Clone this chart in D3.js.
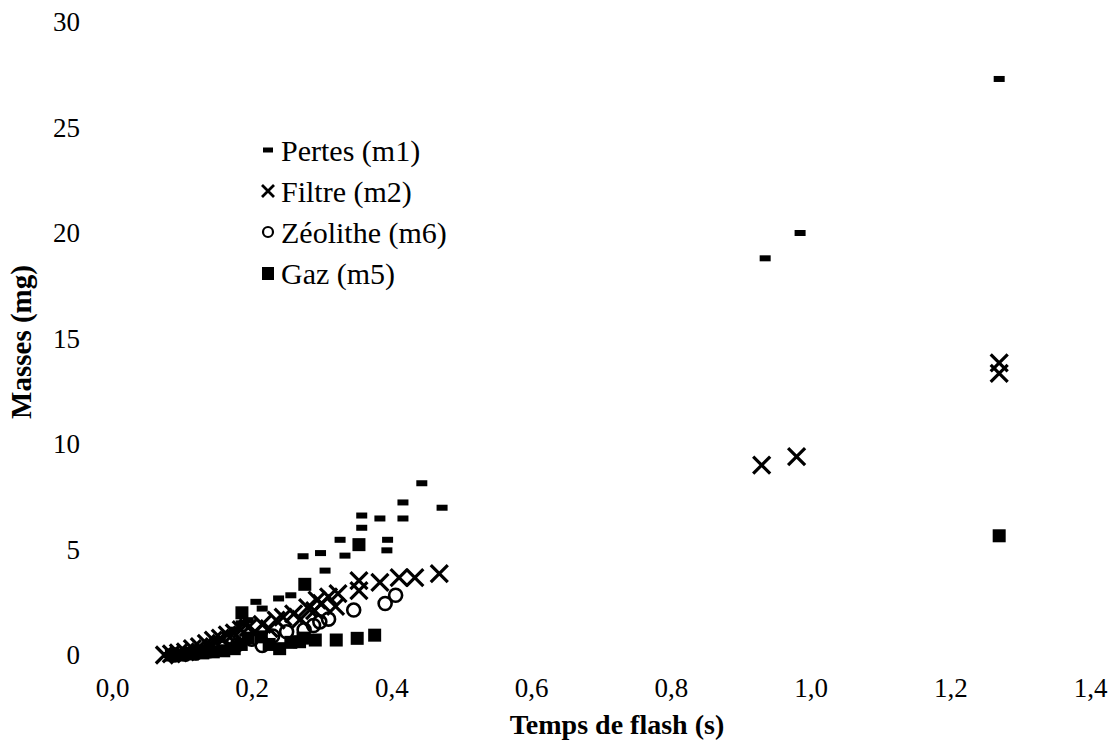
<!DOCTYPE html>
<html><head><meta charset="utf-8">
<script src="https://cdn.jsdelivr.net/npm/d3@7"></script>
<style>body{margin:0;background:#fff}svg{display:block}</style>
</head><body><svg id="c" width="1113" height="750"></svg>
<script>
const xTicks=[0,0.2,0.4,0.6,0.8,1.0,1.2,1.4];
const yTicks=[0,5,10,15,20,25,30];
const seriesNames=["Pertes (m1)","Filtre (m2)","Zéolithe (m6)","Gaz (m5)"];
const xTitle="Temps de flash (s)";
const yTitle="Masses (mg)";

const pertesX=[0.08,0.09,0.10,0.11,0.125,0.14,0.155,0.165,0.175,0.185,0.195,0.206,0.215,0.2385,0.256,0.2735,0.2985,0.305,0.3265,0.3335,0.3575,0.3575,0.3835,0.3935,0.3945,0.4165,0.4165,0.4435,0.4725,0.935,0.985,1.27];
const pertesY=[0.0,0.05,0.1,0.2,0.35,0.5,0.75,1.0,1.2,1.5,1.65,2.52,2.2,2.68,2.83,4.68,4.83,4.0,5.46,4.71,6.03,6.61,6.47,4.96,5.46,6.47,7.23,8.14,6.98,18.8,20.0,27.3];

const filtreX=[0.075,0.085,0.095,0.105,0.115,0.125,0.135,0.145,0.155,0.165,0.175,0.185,0.195,0.205,0.215,0.225,0.235,0.245,0.26,0.27,0.28,0.29,0.2935,0.30,0.31,0.32,0.3235,0.3535,0.3535,0.3835,0.411,0.4335,0.4685,0.93,0.98,1.27,1.27];
const filtreY=[0.0,0.05,0.1,0.15,0.3,0.4,0.55,0.7,0.8,0.95,1.05,1.2,1.3,1.1,1.45,1.25,1.65,1.8,1.95,1.7,2.25,2.1,2.6,2.45,2.75,2.3,2.91,3.05,3.52,3.44,3.67,3.67,3.86,9.0,9.4,13.35,13.85];

const zeoX=[0.09,0.105,0.12,0.14,0.16,0.18,0.20,0.215,0.23,0.25,0.275,0.2885,0.2975,0.31,0.346,0.391,0.406];
const zeoY=[0.0,0.05,0.1,0.2,0.35,0.5,0.75,0.45,0.9,1.1,1.2,1.4,1.57,1.7,2.13,2.44,2.83];

const gazX=[0.085,0.10,0.115,0.13,0.145,0.16,0.175,0.185,0.186,0.195,0.2135,0.225,0.24,0.256,0.2685,0.2735,0.276,0.291,0.321,0.3535,0.351,0.376,1.27];
const gazY=[0.0,0.0,0.05,0.1,0.15,0.2,0.3,0.5,2.0,0.8,0.86,0.5,0.3,0.6,0.63,0.8,3.35,0.71,0.71,5.23,0.79,0.94,5.65];

const FONT="'Liberation Serif','Times New Roman',serif";
const svg=d3.select("#c");
svg.append("rect").attr("width",1113).attr("height",750).attr("fill","#fff");

const x=d3.scaleLinear().domain([0,1.4]).range([112,1090]);
const y=d3.scaleLinear().domain([0,30]).range([655,22]);
const fmt=d=>d3.format(".1f")(d).replace(".",",");

const gx=svg.append("g").attr("transform","translate(0,688)")
  .call(d3.axisBottom(x).tickValues(xTicks).tickFormat(fmt).tickSize(0).tickPadding(0));
gx.select(".domain").remove();
gx.selectAll("text").attr("font-family",FONT).attr("font-size",27).attr("fill","#000").attr("dy","0.35em");

const gy=svg.append("g").attr("transform","translate(80,0)")
  .call(d3.axisLeft(y).tickValues(yTicks).tickSize(0).tickPadding(0));
gy.select(".domain").remove();
gy.selectAll("text").attr("font-family",FONT).attr("font-size",27).attr("fill","#000");

svg.append("text").attr("x",617).attr("y",734).attr("text-anchor","middle")
  .attr("font-family",FONT).attr("font-size",28).attr("font-weight","bold").text(xTitle);
svg.append("text").attr("transform","translate(31,342) rotate(-90)").attr("text-anchor","middle")
  .attr("font-family",FONT).attr("font-size",29).attr("font-weight","bold").text(yTitle);

function pts(xs,ys){return xs.map((v,i)=>[v,ys[i]]);}
function drawDash(g,data,w,h){
  g.selectAll("rect.d").data(data).join("rect").attr("class","d")
   .attr("x",d=>x(d[0])-w/2).attr("y",d=>y(d[1])-h/2).attr("width",w).attr("height",h).attr("fill","#000");
}
function drawX(g,data,a,sw){
  g.selectAll("path.x").data(data).join("path").attr("class","x")
   .attr("d",d=>{const cx=x(d[0]),cy=y(d[1]);return `M${cx-a},${cy-a}L${cx+a},${cy+a}M${cx-a},${cy+a}L${cx+a},${cy-a}`;})
   .attr("stroke","#000").attr("stroke-width",sw).attr("fill","none");
}
function drawO(g,data,r,sw){
  g.selectAll("circle.o").data(data).join("circle").attr("class","o")
   .attr("cx",d=>x(d[0])).attr("cy",d=>y(d[1])).attr("r",r).attr("fill","none").attr("stroke","#000").attr("stroke-width",sw);
}
function drawSq(g,data,s){
  g.selectAll("rect.s").data(data).join("rect").attr("class","s")
   .attr("x",d=>x(d[0])-s/2).attr("y",d=>y(d[1])-s/2).attr("width",s).attr("height",s).attr("fill","#000");
}
drawDash(svg.append("g"),pts(pertesX,pertesY),11,6);
drawX(svg.append("g"),pts(filtreX,filtreY),8.5,3.2);
drawO(svg.append("g"),pts(zeoX,zeoY),6.5,2.6);
drawSq(svg.append("g"),pts(gazX,gazY),13);

// legend
const lg=svg.append("g");
const rows=[150,191,232,273];
const lx=268;
seriesNames.forEach((n,i)=>{
  lg.append("text").attr("x",lx+13).attr("y",rows[i]).attr("dy","0.35em")
    .attr("font-family",FONT).attr("font-size",30).attr("fill","#000").text(n);
});
lg.append("rect").attr("x",lx-5).attr("y",rows[0]-2.5).attr("width",10).attr("height",5).attr("fill","#000");
lg.append("path").attr("d",`M${lx-6},${rows[1]-6}L${lx+6},${rows[1]+6}M${lx-6},${rows[1]+6}L${lx+6},${rows[1]-6}`).attr("stroke","#000").attr("stroke-width",2.8);
lg.append("circle").attr("cx",lx).attr("cy",rows[2]).attr("r",5).attr("fill","none").attr("stroke","#000").attr("stroke-width",2.2);
lg.append("rect").attr("x",lx-6).attr("y",rows[3]-6).attr("width",12).attr("height",13).attr("fill","#000");
</script></body></html>
